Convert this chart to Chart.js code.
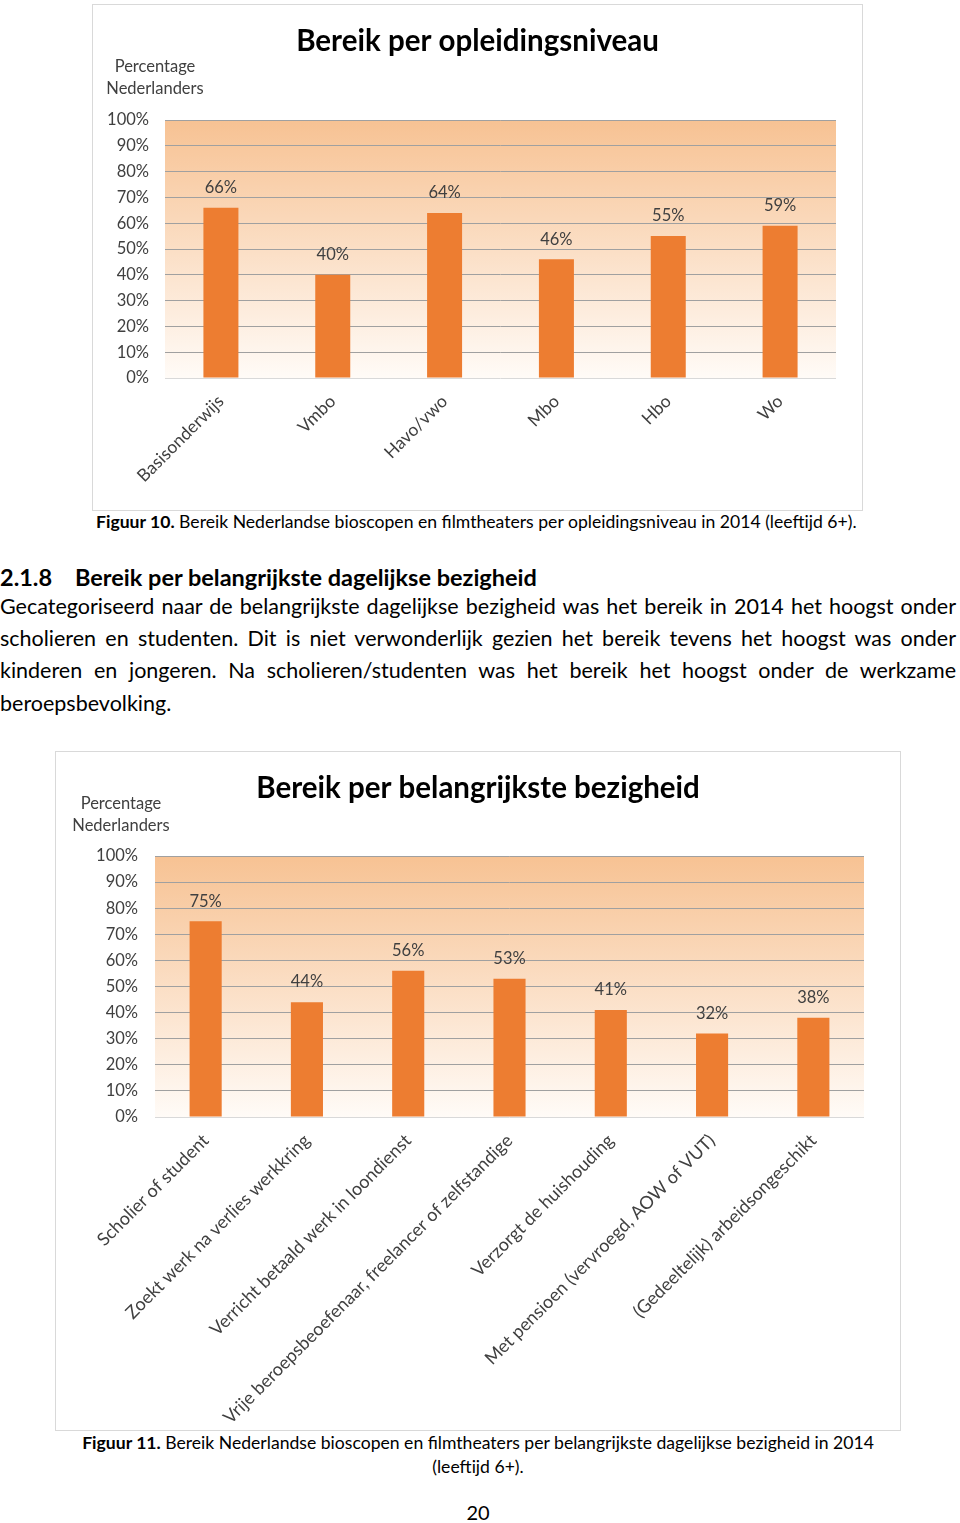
<!DOCTYPE html>
<html>
<head>
<meta charset="utf-8">
<script src="https://cdn.jsdelivr.net/npm/chart.js@4.4.1/dist/chart.umd.min.js"></script>
<style>
  body { margin: 0; width: 960px; height: 1523px; position: relative; background: #fff; font-family: Lato, "Open Sans", sans-serif; color: #000; }
  .box { position: absolute; border: 1px solid #d9d9d9; background: #fff; }
  .box canvas { display: block; }
  .abs { position: absolute; white-space: nowrap; }
  .caption { font-size: 17.6px; }
  .para div { position: absolute; left: 0; width: 956px; font-size: 21.5px; text-align: justify; text-align-last: justify; white-space: nowrap; }
  .para div.last { text-align-last: left; }
</style>
</head>
<body>

<div class="box" style="left:92px; top:4px; width:769px; height:505px;">
  <canvas id="levelChart" width="769" height="505"></canvas>
</div>
<div class="abs caption" style="left:96px; top:511px;"><b>Figuur 10.</b> Bereik Nederlandse bioscopen en filmtheaters per opleidingsniveau in 2014 (leeftijd 6+).</div>

<div class="abs" style="left:0; top:563px; font-size:23.5px; font-weight:bold;">2.1.8</div>
<div class="abs" style="left:75px; top:563px; font-size:23.5px; font-weight:bold;">Bereik per belangrijkste dagelijkse bezigheid</div>
<div class="para">
  <div style="top:593px;">Gecategoriseerd naar de belangrijkste dagelijkse bezigheid was het bereik in 2014 het hoogst onder</div>
  <div style="top:625px;">scholieren en studenten. Dit is niet verwonderlijk gezien het bereik tevens het hoogst was onder</div>
  <div style="top:657px;">kinderen en jongeren. Na scholieren/studenten was het bereik het hoogst onder de werkzame</div>
  <div class="last" style="top:690px;">beroepsbevolking.</div>
</div>

<div class="box" style="left:55px; top:751px; width:844px; height:678px;">
  <canvas id="activityChart" width="844" height="678"></canvas>
</div>
<div class="abs caption" style="left:0; width:956px; text-align:center; top:1432px;"><b>Figuur 11.</b> Bereik Nederlandse bioscopen en filmtheaters per belangrijkste dagelijkse bezigheid in 2014</div>
<div class="abs caption" style="left:0; width:956px; text-align:center; top:1456px;">(leeftijd 6+).</div>
<div class="abs" style="left:0; width:956px; text-align:center; top:1500px; font-size:20px;">20</div>

<script>
const levelLabels = ['Basisonderwijs', 'Vmbo', 'Havo/vwo', 'Mbo', 'Hbo', 'Wo'];
const levelValues = [66, 40, 64, 46, 55, 59];

const activityLabels = [
    'Scholier of student',
    'Zoekt werk na verlies werkkring',
    'Verricht betaald werk in loondienst',
    'Vrije beroepsbeoefenaar, freelancer of zelfstandige',
    'Verzorgt de huishouding',
    'Met pensioen (vervroegd, AOW of VUT)',
    '(Gedeeltelijk) arbeidsongeschikt'
];
const activityValues = [75, 44, 56, 53, 41, 32, 38];

const yTickStep = 10;
const yMax = 100;

Chart.defaults.font.family = 'Lato, "Open Sans", sans-serif';
Chart.defaults.color = '#404040';

// peach gradient behind the plot area
const gradientBg = {
    id: 'gradientBg',
    beforeDraw(chart) {
        const { ctx, chartArea: a } = chart;
        const g = ctx.createLinearGradient(0, a.top, 0, a.bottom);
        g.addColorStop(0, '#f7c293');
        g.addColorStop(1, '#fffbf7');
        ctx.save();
        ctx.fillStyle = g;
        ctx.fillRect(a.left, a.top, a.right - a.left, a.bottom - a.top);
        ctx.restore();
    }
};

// value labels above bars
const barLabels = {
    id: 'barLabels',
    afterDatasetsDraw(chart) {
        const ctx = chart.ctx;
        const meta = chart.getDatasetMeta(0);
        ctx.save();
        ctx.font = '16.5px Lato, "Open Sans", sans-serif';
        ctx.fillStyle = '#404040';
        ctx.textAlign = 'center';
        ctx.textBaseline = 'middle';
        meta.data.forEach((bar, i) => {
            ctx.fillText(chart.data.datasets[0].data[i] + '%', bar.x, bar.y - 20);
        });
        ctx.restore();
    }
};

// chart title and the axis caption above the y ticks
const headings = {
    id: 'headings',
    afterDraw(chart, args, opts) {
        const ctx = chart.ctx;
        ctx.save();
        ctx.fillStyle = '#000';
        ctx.textAlign = 'center';
        ctx.textBaseline = 'middle';
        ctx.font = 'bold 29.5px Lato, "Open Sans", sans-serif';
        ctx.fillText(opts.title, chart.width / 2, opts.titleY);
        ctx.fillStyle = '#404040';
        ctx.font = '16.5px Lato, "Open Sans", sans-serif';
        ctx.fillText('Percentage', opts.capX, opts.capY);
        ctx.fillText('Nederlanders', opts.capX, opts.capY + 22);
        ctx.restore();
    }
};

function makeChart(id, labels, values, cfg) {
    const ctx = document.getElementById(id).getContext('2d');
    return new Chart(ctx, {
        type: 'bar',
        data: {
            labels: labels,
            datasets: [{
                data: values,
                backgroundColor: '#ed7d31',
                categoryPercentage: 1,
                barPercentage: cfg.barPct
            }]
        },
        options: {
            responsive: false,
            animation: false,
            layout: { padding: { top: cfg.top, right: cfg.right, left: 0, bottom: 0 } },
            plugins: {
                legend: { display: false },
                tooltip: { enabled: false },
                headings: { title: cfg.title, titleY: cfg.titleY, capX: cfg.capX, capY: cfg.capY }
            },
            scales: {
                x: {
                    grid: { display: false },
                    border: { display: false },
                    ticks: { autoSkip: false, minRotation: 45, maxRotation: 45, padding: 5, font: { size: cfg.xFont } },
                    afterFit: s => { s.height = cfg.xHeight; }
                },
                y: {
                    min: 0,
                    max: yMax,
                    border: { display: false },
                    grid: {
                        drawTicks: false,
                        color: c => c.index === 0 ? '#d9d9d9' : '#a0a0a0'
                    },
                    ticks: {
                        stepSize: yTickStep,
                        padding: cfg.tickPad,
                        font: { size: 16.5 },
                        callback: v => v + '%'
                    },
                    afterFit: s => { s.width = cfg.yWidth; }
                }
            }
        },
        plugins: [gradientBg, barLabels, headings]
    });
}

makeChart('levelChart', levelLabels, levelValues, {
    title: 'Bereik per opleidingsniveau',
    titleY: 36, capX: 62, capY: 62,
    top: 115, right: 26, xHeight: 132, yWidth: 72, tickPad: 16,
    barPct: 0.313, xFont: 17.5
});

makeChart('activityChart', activityLabels, activityValues, {
    title: 'Bereik per belangrijkste bezigheid',
    titleY: 36, capX: 65, capY: 52,
    top: 104, right: 36, xHeight: 313, yWidth: 99, tickPad: 17,
    barPct: 0.317, xFont: 18
});
</script>
</body>
</html>
